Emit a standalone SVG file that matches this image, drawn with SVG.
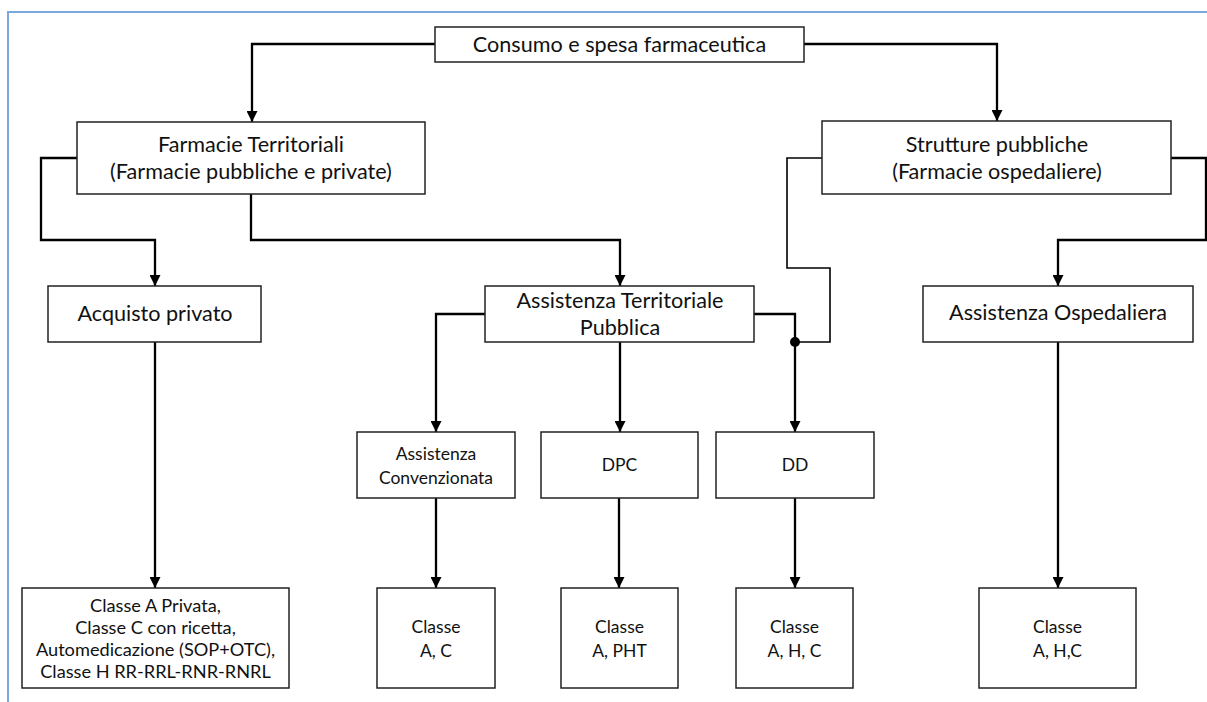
<svg xmlns="http://www.w3.org/2000/svg" width="1207" height="702" viewBox="0 0 1207 702">
<defs>
<marker id="arr" markerUnits="userSpaceOnUse" markerWidth="11" markerHeight="11" refX="11" refY="5.5" orient="auto">
<path d="M0,0 L11,5.5 L0,11 z" fill="#000"/>
</marker>
<style>
.box{fill:#fff;stroke:#222;stroke-width:1.5}
.t{font-family:Lato,"Open Sans","Liberation Sans",sans-serif;fill:#111;text-anchor:middle}
.big{font-size:21.6px}
.mid{font-size:17.5px}
.sm{font-size:18.2px}
.c{fill:none;stroke:#000;stroke-width:2.3}
.ca{fill:none;stroke:#000;stroke-width:2.3;marker-end:url(#arr)}
.thin{fill:none;stroke:#000;stroke-width:1.6}
</style>
</defs>
<rect width="1207" height="702" fill="#fff"/>
<path d="M8,702 V12 H1207" fill="none" stroke="#7aa7dc" stroke-width="2"/>

<g id="connectors">
<path class="ca" d="M435,44 H252 V122"/>
<path class="ca" d="M804,44 H997 V121"/>
<path class="ca" d="M77,158 H41 V240 H155 V286"/>
<path class="ca" d="M251,194 V240 H620 V286"/>
<path class="ca" d="M485,314 H436 V432"/>
<path class="ca" d="M620,342 V432"/>
<path class="ca" d="M754,314 H795 V432"/>
<path class="thin" d="M822,158 H787 V268 H830 V342 H795"/>
<circle cx="795" cy="342" r="5" fill="#000"/>
<path class="ca" d="M1171,158 H1206 V240 H1058 V286"/>
<path class="ca" d="M155,342 V588"/>
<path class="ca" d="M436,498 V588"/>
<path class="ca" d="M619,498 V588"/>
<path class="ca" d="M795,498 V588"/>
<path class="ca" d="M1058,342 V588"/>
</g>

<g id="n-consumo">
<rect class="box" x="435" y="27" width="369" height="35"/>
<text class="t big" x="619.5" y="52">Consumo e spesa farmaceutica</text>
</g>
<g id="n-farmacie-territoriali">
<rect class="box" x="77" y="122" width="348" height="72"/>
<text class="t big" x="251" y="152">Farmacie Territoriali</text>
<text class="t big" x="251" y="179">(Farmacie pubbliche e private)</text>
</g>
<g id="n-strutture">
<rect class="box" x="822" y="121" width="349" height="73"/>
<text class="t big" x="997" y="152">Strutture pubbliche</text>
<text class="t big" x="997" y="179">(Farmacie ospedaliere)</text>
</g>
<g id="n-acquisto">
<rect class="box" x="48" y="286" width="213" height="56"/>
<text class="t big" x="155" y="321">Acquisto privato</text>
</g>
<g id="n-atp">
<rect class="box" x="485" y="286" width="269" height="56"/>
<text class="t big" x="620" y="308">Assistenza Territoriale</text>
<text class="t big" x="620" y="335">Pubblica</text>
</g>
<g id="n-ospedaliera">
<rect class="box" x="923" y="286" width="270" height="56"/>
<text class="t big" x="1058" y="320">Assistenza Ospedaliera</text>
</g>
<g id="n-convenzionata">
<rect class="box" x="357" y="432" width="158" height="66"/>
<text class="t mid" x="436" y="460">Assistenza</text>
<text class="t mid" x="436" y="484">Convenzionata</text>
</g>
<g id="n-dpc">
<rect class="box" x="541" y="432" width="157" height="66"/>
<text class="t mid" x="619.5" y="471">DPC</text>
</g>
<g id="n-dd">
<rect class="box" x="716" y="432" width="158" height="66"/>
<text class="t mid" x="795" y="471">DD</text>
</g>
<g id="n-privato-classi">
<rect class="box" x="22" y="588" width="267" height="100"/>
<text class="t sm" x="155.5" y="612">Classe A Privata,</text>
<text class="t sm" x="155.5" y="634">Classe C con ricetta,</text>
<text class="t sm" x="155.5" y="656">Automedicazione (SOP+OTC),</text>
<text class="t sm" x="155.5" y="678">Classe H RR-RRL-RNR-RNRL</text>
</g>
<g id="n-classe-ac">
<rect class="box" x="377" y="588" width="118" height="100"/>
<text class="t mid" x="436" y="633">Classe</text>
<text class="t mid" x="436" y="657">A, C</text>
</g>
<g id="n-classe-apht">
<rect class="box" x="561" y="588" width="117" height="100"/>
<text class="t mid" x="619.5" y="633">Classe</text>
<text class="t mid" x="619.5" y="657">A, PHT</text>
</g>
<g id="n-classe-ahc">
<rect class="box" x="736" y="588" width="117" height="100"/>
<text class="t mid" x="794.5" y="633">Classe</text>
<text class="t mid" x="794.5" y="657">A, H, C</text>
</g>
<g id="n-classe-ahc2">
<rect class="box" x="979" y="588" width="157" height="100"/>
<text class="t mid" x="1057.5" y="633">Classe</text>
<text class="t mid" x="1057.5" y="657">A, H,C</text>
</g>
</svg>
